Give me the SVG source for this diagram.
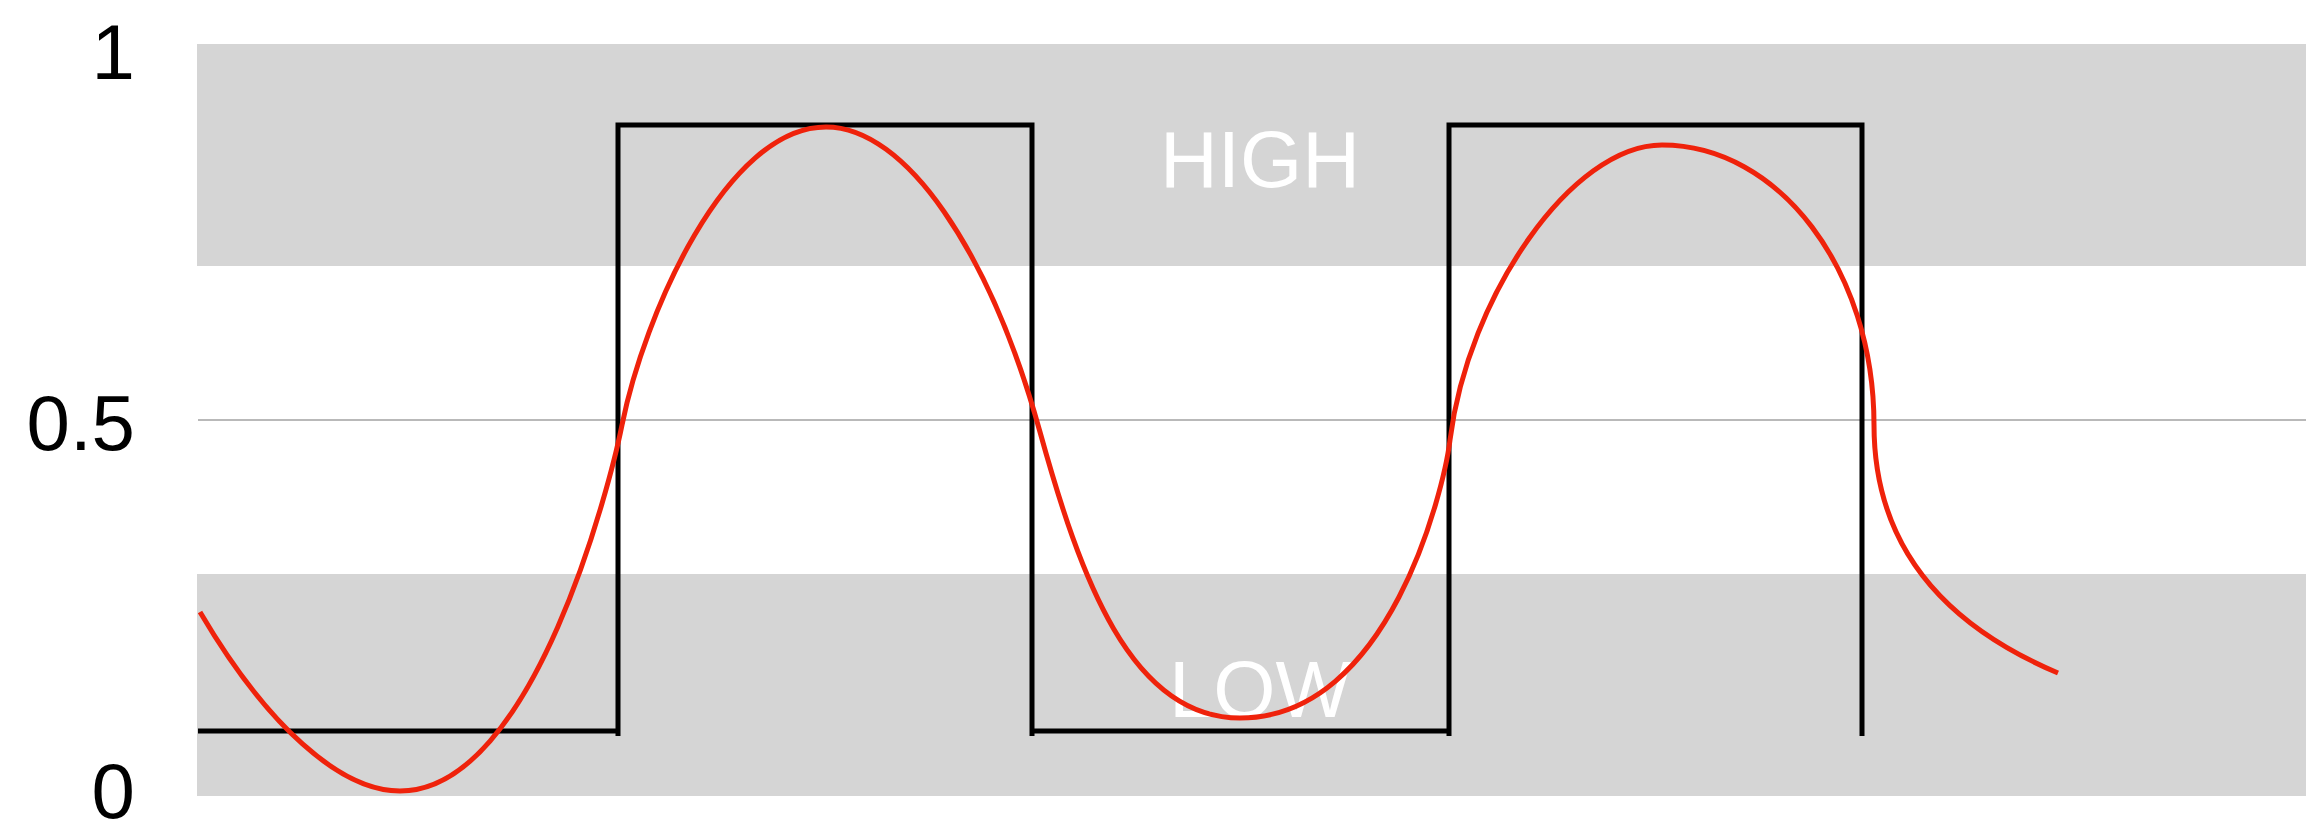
<svg xmlns="http://www.w3.org/2000/svg" width="2306" height="822" viewBox="0 0 2306 822">
<style>
.band{fill:#d5d5d5}
.axis{font-family:"Liberation Sans",Arial,sans-serif;font-size:78px;fill:#000;text-anchor:end}
.zone{font-family:"Liberation Sans",Arial,sans-serif;font-size:80px;fill:#fff;text-anchor:middle}
.mid{stroke:#b9b9b9;stroke-width:2;fill:none}
.square{stroke:#000;stroke-width:5;fill:none;stroke-linejoin:miter}
.analog{stroke:#ef220b;stroke-width:5;fill:none;stroke-linecap:butt;stroke-linejoin:round}
</style>
<rect width="2306" height="822" fill="#fff"/>
<g id="high-band">
<rect class="band" x="197" y="44" width="2109" height="222"/>
<text class="zone" x="1260" y="187">HIGH</text>
</g>
<g id="low-band">
<rect class="band" x="197" y="574" width="2109" height="222"/>
<text class="zone" x="1260" y="717">LOW</text>
</g>
<g id="axis-labels">
<text class="axis" x="135" y="79">1</text>
<text class="axis" x="135" y="450">0.5</text>
<text class="axis" x="135" y="818">0</text>
</g>
<g id="midline">
<line class="mid" x1="198" y1="420" x2="2306" y2="420"/>
</g>
<g id="connectors">
<path id="digital" class="square" d="M198,731 H618 M618,736 V125 H1032 V736 M1032,731 H1449 M1449,736 V125 H1862 V736"/>
<path id="analog" class="analog" d="M200,612 C266.7,725.3 340,791 400,791 C535,791 612,475 622,425 C644,315 726,127 826,127 C906,127 990,252 1040,432 C1080,576 1130,718 1240,718 C1390,718 1444,488 1450,440 C1468,296 1572,145 1662,145 C1779,145 1874,270 1874,425 C1874,565 1968,635 2058,673"/>
</g>
</svg>
